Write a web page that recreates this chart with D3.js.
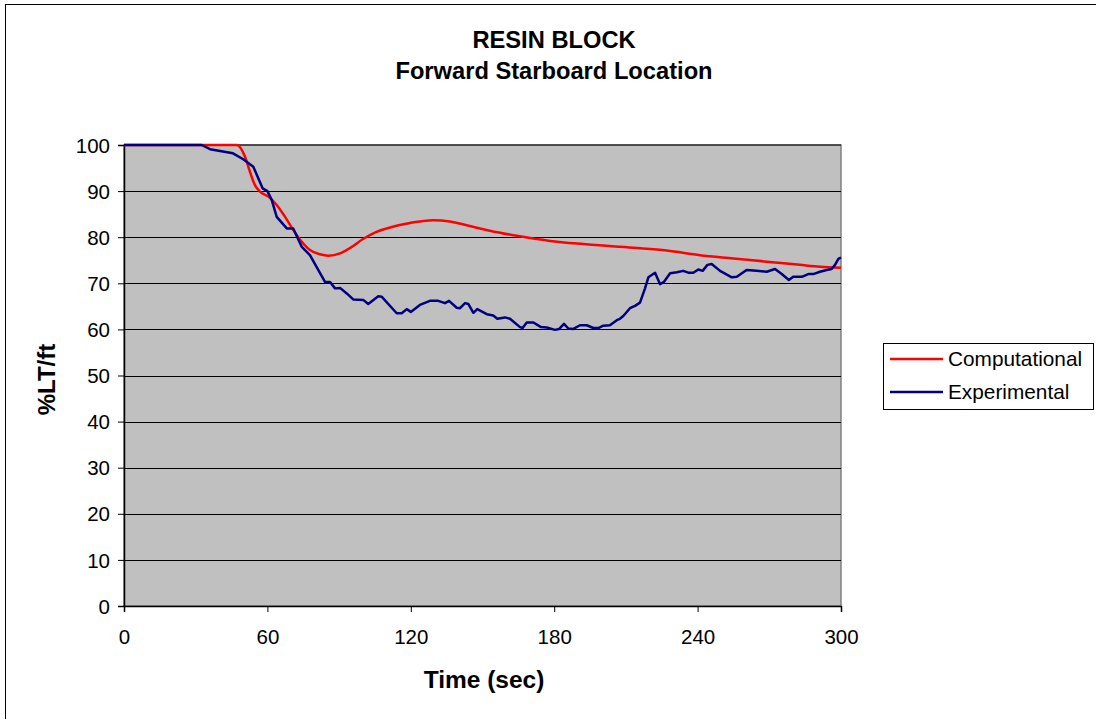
<!DOCTYPE html>
<html>
<head>
<meta charset="utf-8">
<script src="https://cdn.jsdelivr.net/npm/d3@7"></script>
<style>
  html, body { margin: 0; padding: 0; background: #fff; }
  svg { display: block; font-family: "Liberation Sans", Arial, sans-serif; }
</style>
</head>
<body>
<svg id="chart" width="1096" height="719"></svg>
<script>
// ---- data ----
const titleLines = ["RESIN BLOCK", "Forward Starboard Location"];
const xTicks = [0, 60, 120, 180, 240, 300];
const yTicks = [0, 10, 20, 30, 40, 50, 60, 70, 80, 90, 100];
const seriesNames = ["Computational", "Experimental"];

const compTime = [0, 20, 40, 47.2, 50.6, 52.7, 54.8, 56.9, 60.4, 63.9, 67.4, 70.8, 74.4, 77.8, 82.0, 85.5, 90.4, 95, 100, 105, 109.9, 119.7, 129.4, 136.4, 143.4, 153.1, 164.3, 178.2, 192.2, 213.1, 227.1, 241.0, 254.9, 268.9, 282.8, 291.2, 300];
const compValue = [100, 100, 100, 100, 97.5, 94.2, 91.3, 89.9, 88.8, 87.0, 84.4, 81.6, 79.0, 77.2, 76.3, 76.0, 76.5, 77.8, 79.6, 81.0, 81.9, 83.1, 83.7, 83.4, 82.6, 81.4, 80.3, 79.2, 78.5, 77.7, 77.1, 76.1, 75.4, 74.7, 74.0, 73.6, 73.4];

const expTime = [0, 32.5, 36.0, 45.6, 49.9, 54.1, 58.0, 60.0, 61.8, 63.9, 68.1, 70.8, 74.4, 77.8, 84.1, 86.2, 88.3, 90.4, 93.2, 95.9, 100.1, 102.2, 106.4, 107.8, 114.1, 116.2, 118.3, 120.0, 123.8, 128.0, 131.5, 134.3, 136.0, 139.2, 140.6, 142.7, 144.1, 146.2, 147.8, 151.8, 154.5, 156.2, 159.4, 161.5, 165.7, 166.8, 168.5, 171.3, 174.5, 176.9, 180.3, 182.1, 184.1, 185.9, 188.0, 190.8, 193.6, 196.4, 198.5, 200.5, 203.3, 206.2, 207.5, 208.9, 211.7, 213.8, 215.9, 218.0, 219.4, 222.2, 224.3, 225.9, 228.5, 231.3, 234.0, 236.1, 238.2, 240.3, 242.1, 244.1, 245.9, 249.4, 254.3, 256.4, 260.5, 264.7, 268.9, 272.4, 275.2, 278.2, 280.0, 283.6, 286.3, 288.4, 291.2, 294.0, 296.1, 297.5, 298.9, 300];
const expValue = [100, 100, 99.1, 98.2, 96.9, 95.3, 90.6, 90.0, 88.1, 84.4, 81.9, 81.9, 77.9, 76.1, 70.3, 70.3, 68.9, 69.0, 67.8, 66.5, 66.4, 65.5, 67.2, 67.1, 63.5, 63.5, 64.4, 63.8, 65.3, 66.2, 66.2, 65.7, 66.2, 64.7, 64.6, 65.7, 65.5, 63.6, 64.4, 63.3, 63.0, 62.3, 62.6, 62.3, 60.5, 60.3, 61.5, 61.5, 60.5, 60.4, 59.9, 60.1, 61.2, 60.2, 60.1, 60.9, 60.9, 60.3, 60.3, 60.8, 60.9, 62.0, 62.3, 62.9, 64.6, 65.1, 65.8, 68.9, 71.3, 72.3, 69.8, 70.3, 72.2, 72.4, 72.7, 72.3, 72.3, 73.0, 72.7, 74.0, 74.2, 72.7, 71.3, 71.4, 72.9, 72.7, 72.5, 73.1, 72.0, 70.7, 71.4, 71.4, 72.0, 72.0, 72.5, 72.9, 73.1, 74.0, 75.3, 75.6];

// ---- layout ----
const svg = d3.select("#chart");
const plot = { left: 124, top: 145, right: 841, bottom: 606 };
const x = d3.scaleLinear().domain([0, 300]).range([plot.left, plot.right]);
const y = d3.scaleLinear().domain([0, 100]).range([plot.bottom, plot.top]);

// outer chart border (only left/top visible)
svg.append("rect").attr("x", 5.5).attr("y", 4.5).attr("width", 1200).attr("height", 900)
  .attr("fill", "#fff").attr("stroke", "#000").attr("stroke-width", 1);

// plot area
svg.append("rect").attr("x", plot.left).attr("y", plot.top)
  .attr("width", plot.right - plot.left).attr("height", plot.bottom - plot.top)
  .attr("fill", "#C0C0C0").attr("stroke", "#808080").attr("stroke-width", 1.5);

// gridlines
svg.append("g").selectAll("line").data(yTicks.filter(d => d > 0 && d < 100)).join("line")
  .attr("x1", plot.left).attr("x2", plot.right)
  .attr("y1", d => Math.round(y(d)) + 0.5).attr("y2", d => Math.round(y(d)) + 0.5)
  .attr("stroke", "#000").attr("stroke-width", 1);
svg.append("line").attr("x1", plot.left).attr("x2", plot.right)
  .attr("y1", y(100)).attr("y2", y(100)).attr("stroke", "#000").attr("stroke-width", 1);

// axes
const xAxis = d3.axisBottom(x).tickValues(xTicks).tickSize(6).tickPadding(17).tickFormat(d3.format("d"));
const yAxis = d3.axisLeft(y).tickValues(yTicks).tickSize(6).tickPadding(8).tickFormat(d3.format("d"));

const gx = svg.append("g").attr("transform", `translate(0,${plot.bottom})`).call(xAxis);
const gy = svg.append("g").attr("transform", `translate(${plot.left},0)`).call(yAxis);
[gx, gy].forEach(g => {
  g.select(".domain").attr("stroke", "#000").attr("stroke-width", 1.5);
  g.selectAll(".tick line").attr("stroke", "#000").attr("stroke-width", 1);
  g.selectAll(".tick text").attr("fill", "#000").attr("font-size", 20.5)
    .attr("font-family", "'Liberation Sans', Arial, sans-serif");
});
gx.selectAll(".tick text").attr("dy", "0.71em");
gy.selectAll(".tick text").attr("dy", "0.35em");

// lines
const compData = compTime.map((t, i) => [t, compValue[i]]);
const expData = expTime.map((t, i) => [t, expValue[i]]);

const smooth = d3.line().x(d => x(d[0])).y(d => y(d[1])).curve(d3.curveMonotoneX);
const straight = d3.line().x(d => x(d[0])).y(d => y(d[1]));

svg.append("path").datum(compData).attr("d", smooth)
  .attr("fill", "none").attr("stroke", "#FF0000").attr("stroke-width", 2.5).attr("stroke-linejoin", "round");
svg.append("path").datum(expData).attr("d", straight)
  .attr("fill", "none").attr("stroke", "#000080").attr("stroke-width", 2.5).attr("stroke-linejoin", "round");

// titles
const title = svg.append("text").attr("text-anchor", "middle")
  .attr("font-weight", "bold").attr("font-size", 23.7).attr("fill", "#000");
title.append("tspan").attr("x", 554).attr("y", 48).text(titleLines[0]);
title.append("tspan").attr("x", 554).attr("y", 79).text(titleLines[1]);

svg.append("text").attr("x", 484).attr("y", 688)
  .attr("text-anchor", "middle").attr("font-weight", "bold").attr("font-size", 24.5)
  .text("Time (sec)");

svg.append("text").attr("transform", `translate(55,${(plot.top + plot.bottom) / 2 + 4}) rotate(-90)`)
  .attr("text-anchor", "middle").attr("font-weight", "bold").attr("font-size", 24)
  .text("%LT/ft");

// legend
const lg = svg.append("g");
lg.append("rect").attr("x", 883.5).attr("y", 343.5).attr("width", 210).attr("height", 66)
  .attr("fill", "#fff").attr("stroke", "#000").attr("stroke-width", 1);
const colors = ["#FF0000", "#000080"];
seriesNames.forEach((name, i) => {
  const yy = 359 + i * 33;
  lg.append("line").attr("x1", 890).attr("x2", 943).attr("y1", yy).attr("y2", yy)
    .attr("stroke", colors[i]).attr("stroke-width", 2.5);
  lg.append("text").attr("x", 948).attr("y", yy + 7).attr("font-size", 20.8).attr("fill", "#000").text(name);
});
</script>
</body>
</html>
